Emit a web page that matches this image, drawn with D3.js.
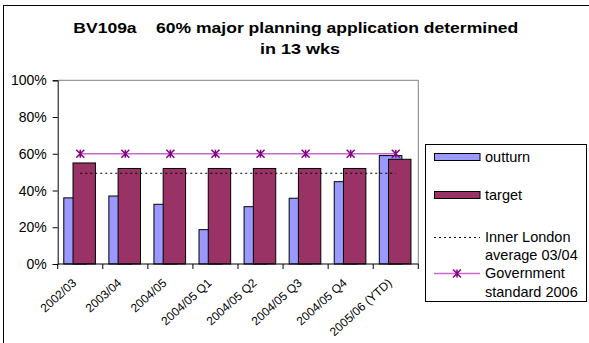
<!DOCTYPE html>
<html><head><meta charset="utf-8">
<script src="https://cdn.jsdelivr.net/npm/d3@7"></script>
<style>body{margin:0;background:#fff}svg{display:block;font-family:"Liberation Sans",Arial,sans-serif}</style>
</head><body>
<svg id="c" width="589" height="343"></svg>
<script>
const categories = ["2002/03","2003/04","2004/05","2004/05 Q1","2004/05 Q2","2004/05 Q3","2004/05 Q4","2005/06 (YTD)"];
const outturn = [0.36,0.37,0.325,0.187,0.312,0.358,0.448,0.59];
const target = [0.55,0.52,0.52,0.52,0.52,0.52,0.52,0.57];
const innerLondon = [0.494,0.494,0.494,0.494,0.494,0.494,0.494,0.494];
const govStandard = [0.6,0.6,0.6,0.6,0.6,0.6,0.6,0.6];
const yTicks = [0,0.2,0.4,0.6,0.8,1.0];
const titleLines = ["BV109a    60% major planning application determined","in 13 wks"];

const svg = d3.select("#c");
const L=57.7,R=418.3,T=80.3,B=264;
const x = d3.scaleBand().domain(categories).range([L,R]).padding(0);
const y = d3.scaleLinear().domain([0,1]).range([B,T]);
const bw = x.bandwidth();

// outer border
svg.append("rect").attr("x",3.5).attr("y",5.5).attr("width",600).attr("height",400)
  .attr("fill","none").attr("stroke","#000").attr("stroke-width",1);

// title
svg.append("text").attr("x",73.3).attr("y",32.5)
  .attr("font-weight","bold").attr("font-size",15.5).attr("xml:space","preserve")
  .attr("textLength",445).attr("lengthAdjust","spacingAndGlyphs").text(titleLines[0]);
svg.append("text").attr("x",260).attr("y",54)
  .attr("font-weight","bold").attr("font-size",15.5)
  .attr("textLength",80).attr("lengthAdjust","spacingAndGlyphs").text(titleLines[1]);

// plot border top/right
svg.append("path").attr("d",`M${L},${T}H${R}V${B}`).attr("fill","none").attr("stroke","#808080").attr("stroke-width",1);

// bars
svg.append("g").selectAll("rect").data(categories).join("rect")
  .attr("x",d=>x(d)+bw*0.135).attr("width",bw*0.5)
  .attr("y",(d,i)=>y(outturn[i])).attr("height",(d,i)=>B-y(outturn[i]))
  .attr("fill","#9999FF").attr("stroke","#000").attr("stroke-width",1);
svg.append("g").selectAll("rect").data(categories).join("rect")
  .attr("x",d=>x(d)+bw*0.34).attr("width",bw*0.497)
  .attr("y",(d,i)=>y(target[i])).attr("height",(d,i)=>B-y(target[i]))
  .attr("fill","#993366").attr("stroke","#000").attr("stroke-width",1);

// lines
const cx = d=>x(d)+bw/2;
const line = d3.line().x(d=>cx(d[0])).y(d=>y(d[1]));
svg.append("path").attr("d",line(categories.map((c,i)=>[c,innerLondon[i]])))
  .attr("fill","none").attr("stroke","#000").attr("stroke-width",1).attr("stroke-dasharray","2,3");
svg.append("path").attr("d",line(categories.map((c,i)=>[c,govStandard[i]])))
  .attr("fill","none").attr("stroke","#CC66CC").attr("stroke-width",1.5);
function star(g,px,py){
  const s=4;
  g.append("path").attr("d",`M${px-s},${py-s}L${px+s},${py+s}M${px-s},${py+s}L${px+s},${py-s}M${px},${py-s}V${py+s}`)
   .attr("stroke","#800080").attr("stroke-width",1.5).attr("fill","none");
}
const mg = svg.append("g");
categories.forEach((c,i)=>star(mg,cx(c),y(govStandard[i])));

// y axis
const ya = svg.append("g").attr("transform",`translate(${L},0)`)
  .call(d3.axisLeft(y).tickValues(yTicks).tickFormat(d3.format(".0%")).tickSize(5).tickPadding(6));
ya.select(".domain").attr("stroke","#000");
ya.selectAll("text").attr("font-size",14).attr("fill","#000").attr("font-family","Liberation Sans, Arial");

// x axis
svg.append("line").attr("x1",L).attr("x2",R).attr("y1",B).attr("y2",B).attr("stroke","#000");
svg.append("g").selectAll("line").data(categories.concat(["__end"])).join("line")
  .attr("x1",(d,i)=>L+i*bw).attr("x2",(d,i)=>L+i*bw).attr("y1",B).attr("y2",B+5).attr("stroke","#000");
svg.append("g").selectAll("text").data(categories).join("text")
  .attr("transform",d=>`translate(${cx(d)-3},${B+20}) rotate(-42)`)
  .attr("text-anchor","end").attr("font-size",12).text(d=>d);

// legend
const lg = svg.append("g");
lg.append("rect").attr("x",425.5).attr("y",144.5).attr("width",161).attr("height",157)
  .attr("fill","#fff").attr("stroke","#000").attr("stroke-width",1);
lg.append("rect").attr("x",434.5).attr("y",153.5).attr("width",45.5).attr("height",7).attr("fill","#9999FF").attr("stroke","#000");
lg.append("rect").attr("x",434.5).attr("y",191.5).attr("width",45.5).attr("height",7).attr("fill","#993366").attr("stroke","#000");
lg.append("line").attr("x1",434).attr("x2",480).attr("y1",237.5).attr("y2",237.5).attr("stroke","#000").attr("stroke-dasharray","2,3");
lg.append("line").attr("x1",434).attr("x2",480).attr("y1",273.5).attr("y2",273.5).attr("stroke","#CC66CC").attr("stroke-width",1.5);
star(lg,457,273.5);
const lt = [["outturn",162],["target",200],["Inner London",242],["average 03/04",260],["Government",278],["standard 2006",297]];
lg.selectAll("text").data(lt).join("text").attr("x",485).attr("y",d=>d[1]).attr("font-size",14.5).text(d=>d[0]);
</script>
</body></html>
